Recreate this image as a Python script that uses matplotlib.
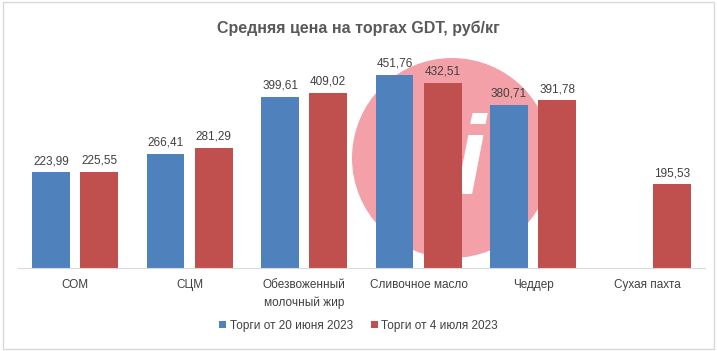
import matplotlib.pyplot as plt
import matplotlib.patches as mpatches
import numpy as np

# данные
categories = ['СОМ', 'СЦМ', 'Обезвоженный\nмолочный жир', 'Сливочное масло', 'Чеддер', 'Сухая пахта']
june_20 = [223.99, 266.41, 399.61, 451.76, 380.71, np.nan]
july_4 = [225.55, 281.29, 409.02, 432.51, 391.78, 195.53]
series_names = ['Торги от 20 июня 2023', 'Торги от 4 июля 2023']

plt.rcParams['font.family'] = ['Liberation Sans', 'DejaVu Sans']

blue = '#4F81BD'
red = '#C0504D'
txt = '#404040'

fig = plt.figure(figsize=(7.17, 3.51), dpi=100)
ax = fig.add_axes([0.025, 0.236, 0.958, 0.61])

# рамка всей диаграммы
fig.patches.append(mpatches.Rectangle((0.004, 0.006), 0.992, 0.988, transform=fig.transFigure,
                                      fill=False, edgecolor='#D9D9D9', linewidth=1))

# водяной знак (под столбиками)
circle = mpatches.Ellipse((452 / 717, 1 - 158 / 351), 200 / 717, 200 / 351, transform=fig.transFigure,
                          facecolor='#F4A0A8', edgecolor='none', zorder=0, clip_on=False)
ax.add_patch(circle)
ax.text(470 / 717, 1 - 165 / 351, 'i', transform=fig.transFigure, color='white', fontsize=80,
        fontweight='bold', fontstyle='italic', ha='center', va='center', zorder=1, clip_on=False)

x = np.arange(len(categories))
w = 0.33
off = 0.21
b1 = ax.bar(x - off, june_20, w, color=blue, label=series_names[0], zorder=2)
b2 = ax.bar(x + off, july_4, w, color=red, label=series_names[1], zorder=2)

for bars, vals in ((b1, june_20), (b2, july_4)):
    for b, v in zip(bars, vals):
        if np.isnan(v):
            continue
        ax.text(b.get_x() + b.get_width() / 2, v + 12, f'{v:.2f}'.replace('.', ','),
                ha='center', va='bottom', fontsize=8.5, color=txt, zorder=3)

ax.set_xlim(-0.5, len(categories) - 0.5)
ax.set_ylim(0, 500)
ax.set_yticks([])
ax.set_xticks(x)
ax.set_xticklabels(categories, fontsize=8.5, color=txt, linespacing=1.5)
ax.tick_params(axis='x', length=0, pad=8)
for s in ['top', 'right', 'left']:
    ax.spines[s].set_visible(False)
ax.spines['bottom'].set_color('#D9D9D9')
ax.patch.set_alpha(0)

fig.suptitle('Средняя цена на торгах GDT, руб/кг', y=0.94, fontsize=11.5, fontweight='bold', color='#595959')

fig.legend(loc='center', bbox_to_anchor=(0.5, 0.072), ncol=2, frameon=False, fontsize=8.5,
           handlelength=0.6, handleheight=0.6, handletextpad=0.3, columnspacing=1.5, labelcolor=txt)

plt.savefig('out.png', dpi=100)
